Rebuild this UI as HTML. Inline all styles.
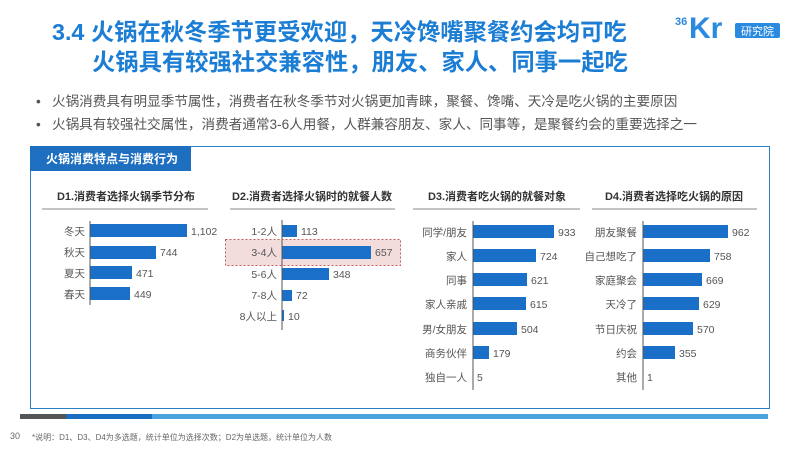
<!DOCTYPE html>
<html><head><meta charset="utf-8"><style>
body{margin:0;background:#fff;}
svg text{font-family:"Liberation Sans","Noto Sans CJK SC",sans-serif;}
</style></head><body>
<svg width="800" height="450" viewBox="0 0 800 450" xmlns="http://www.w3.org/2000/svg">
<rect width="800" height="450" fill="#fff"/>
<!-- logo -->
<text x="675" y="25" font-size="11" font-weight="bold" fill="#2a8ae0">36</text>
<text x="689" y="38" font-size="30" font-weight="bold" fill="#2a8ae0">Kr</text>
<rect x="735" y="23" width="45" height="15" rx="2" fill="#2a8ae0"/>
<text x="757.5" y="35" font-size="11" fill="#fff" text-anchor="middle">研究院</text>
<!-- title -->
<text x="52" y="40" font-size="23.3" font-weight="bold" fill="#1c7dd4">3.4 火锅在秋冬季节更受欢迎，天冷馋嘴聚餐约会均可吃</text>
<text x="92" y="70" font-size="23.3" font-weight="bold" fill="#1c7dd4">火锅具有较强社交兼容性，朋友、家人、同事一起吃</text>
<!-- bullets -->
<g font-size="13.6" fill="#555">
<text x="36" y="106">•</text><text x="52" y="106">火锅消费具有明显季节属性，消费者在秋冬季节对火锅更加青睐，聚餐、馋嘴、天冷是吃火锅的主要原因</text>
<text x="36" y="129">•</text><text x="52" y="129">火锅具有较强社交属性，消费者通常3-6人用餐，人群兼容朋友、家人、同事等，是聚餐约会的重要选择之一</text>
</g>
<!-- box -->
<rect x="30.5" y="146.5" width="739" height="262" fill="none" stroke="#2a7fc0" stroke-width="1"/>
<rect x="30" y="146" width="161" height="25" fill="#1f6fc0"/>
<text x="46" y="163" font-size="12" font-weight="bold" fill="#fff">火锅消费特点与消费行为</text>
<!-- chart titles -->
<g font-size="11" font-weight="bold" fill="#333" text-anchor="middle">
<text x="126" y="200">D1.消费者选择火锅季节分布</text>
<text x="312" y="200">D2.消费者选择火锅时的就餐人数</text>
<text x="497" y="200">D3.消费者吃火锅的就餐对象</text>
<text x="674" y="200">D4.消费者选择吃火锅的原因</text>
</g>
<g stroke="#888" stroke-width="1">
<line x1="42" y1="209" x2="208" y2="209"/>
<line x1="230" y1="209" x2="395" y2="209"/>
<line x1="413" y1="209" x2="580" y2="209"/>
<line x1="592" y1="209" x2="757" y2="209"/>
</g>
<!-- highlight -->
<rect x="225.5" y="239.5" width="175" height="26" fill="#f2dcdc" stroke="#c06060" stroke-dasharray="2,2"/>
<g fill="#1a6fc8">
<rect x="90" y="224" width="97" height="13"/>
<rect x="90" y="246" width="66" height="13"/>
<rect x="90" y="266" width="42" height="13"/>
<rect x="90" y="287" width="40" height="13"/>
<rect x="282" y="225" width="15" height="12"/>
<rect x="282" y="246" width="89" height="13"/>
<rect x="282" y="268" width="47" height="12"/>
<rect x="282" y="290" width="10" height="11"/>
<rect x="282" y="310" width="2" height="11"/>
<rect x="473" y="225" width="81" height="13"/>
<rect x="473" y="249" width="63" height="13"/>
<rect x="473" y="273" width="54" height="13"/>
<rect x="473" y="297" width="53" height="13"/>
<rect x="473" y="322" width="44" height="13"/>
<rect x="473" y="346" width="16" height="13"/>
<rect x="643" y="225" width="85" height="13"/>
<rect x="643" y="249" width="67" height="13"/>
<rect x="643" y="273" width="59" height="13"/>
<rect x="643" y="297" width="56" height="13"/>
<rect x="643" y="322" width="50" height="13"/>
<rect x="643" y="346" width="32" height="13"/>
</g>
<g stroke="#555" stroke-width="1">
<line x1="90" y1="221" x2="90" y2="305"/>
<line x1="282" y1="220" x2="282" y2="330"/>
<line x1="473" y1="221" x2="473" y2="390"/>
<line x1="643" y1="221" x2="643" y2="390"/>
</g>
<g font-size="10.5" fill="#555">
<g text-anchor="end">
<text x="85" y="235">冬天</text><text x="85" y="256">秋天</text><text x="85" y="277">夏天</text><text x="85" y="298">春天</text>
<text x="277" y="235">1-2人</text><text x="277" y="256">3-4人</text><text x="277" y="278">5-6人</text><text x="277" y="299">7-8人</text><text x="277" y="320">8人以上</text>
<text x="467" y="236">同学/朋友</text><text x="467" y="260">家人</text><text x="467" y="284">同事</text><text x="467" y="308">家人亲戚</text><text x="467" y="333">男/女朋友</text><text x="467" y="357">商务伙伴</text><text x="467" y="381">独自一人</text>
<text x="637" y="236">朋友聚餐</text><text x="637" y="260">自己想吃了</text><text x="637" y="284">家庭聚会</text><text x="637" y="308">天冷了</text><text x="637" y="333">节日庆祝</text><text x="637" y="357">约会</text><text x="637" y="381">其他</text>
</g>
<text x="191" y="235">1,102</text><text x="160" y="256">744</text><text x="136" y="277">471</text><text x="134" y="298">449</text>
<text x="301" y="235">113</text><text x="375" y="256">657</text><text x="333" y="278">348</text><text x="296" y="299">72</text><text x="288" y="320">10</text>
<text x="558" y="236">933</text><text x="540" y="260">724</text><text x="531" y="284">621</text><text x="530" y="308">615</text><text x="521" y="333">504</text><text x="493" y="357">179</text><text x="477" y="381">5</text>
<text x="732" y="236">962</text><text x="714" y="260">758</text><text x="706" y="284">669</text><text x="703" y="308">629</text><text x="697" y="333">570</text><text x="679" y="357">355</text><text x="647" y="381">1</text>
</g>
<!-- bottom bar -->
<rect x="20" y="414" width="46" height="5" fill="#555"/>
<rect x="66" y="414" width="86" height="5" fill="#1a6fc0"/>
<rect x="152" y="414" width="616" height="5" fill="#4aa3dc"/>
<text x="10" y="439" font-size="9" fill="#666">30</text>
<text x="32" y="440" font-size="8" fill="#666">*说明：D1、D3、D4为多选题，统计单位为选择次数；D2为单选题，统计单位为人数</text>
</svg>
</body></html>
